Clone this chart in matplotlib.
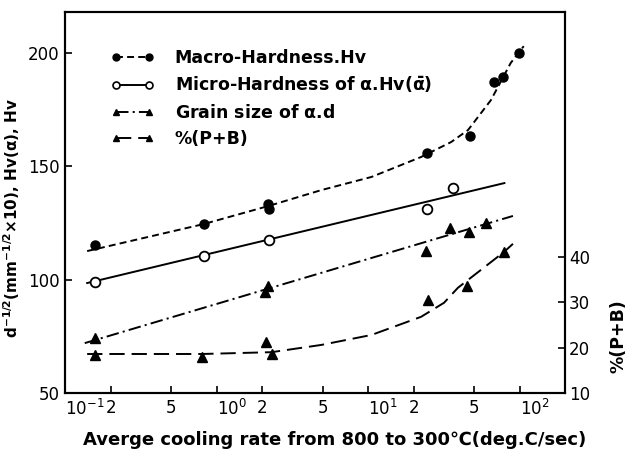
import numpy as np
import matplotlib
matplotlib.use("Agg")
import matplotlib.pyplot as plt
import matplotlib.transforms as mtransforms
from matplotlib.lines import Line2D

plt.rcParams['font.family'] = ['DejaVu Sans']
plt.rcParams['mathtext.default'] = 'regular'
plt.rcParams['lines.scale_dashes'] = False

# measured points
macro_x = [0.158, 0.82, 2.17, 2.23, 24.4, 46.9, 67.6, 77.0, 98.0]
macro_hv = [115.3, 124.5, 133.5, 131.0, 155.9, 163.4, 187.4, 189.4, 200.0]

micro_x = [0.158, 0.82, 2.23, 24.4, 36.2]
micro_hv = [99.0, 110.4, 117.5, 131.2, 140.4]

grain_x = [0.158, 2.17, 2.10, 24.2, 34.7, 46.0, 59.7]
grain_d = [74.3, 97.0, 94.6, 112.6, 122.8, 121.0, 124.8]

pb_x = [0.158, 0.80, 2.13, 2.33, 24.7, 44.7, 78.5]
pb_pct = [18.4, 17.9, 21.3, 18.6, 30.5, 33.6, 41.1]

# hand-drawn trend curves
macro_fit_x = [0.14, 0.82, 2.2, 4.9, 10.5, 22.3, 35.2, 45.5, 64.4, 87.0, 106.0]
macro_fit_y = [112.6, 124.5, 132.5, 139.5, 145.3, 154.1, 160.7, 166.0, 179.2, 195.6, 203.0]

micro_fit_x = [0.14, 79.0]
micro_fit_y = [98.5, 142.6]

grain_fit_x = [0.135, 90.0]
grain_fit_y = [72.0, 128.1]

pb_fit_x = [0.14, 0.8, 2.3, 4.9, 10.5, 22.3, 31.6, 39.0, 78.5, 90.0]
pb_fit_y = [18.6, 18.6, 19.0, 20.6, 22.8, 26.8, 29.9, 33.2, 41.1, 42.9]

xticks = [0.1, 0.2, 0.5, 1, 2, 5, 10, 20, 50, 100]
xticklabels = ['$10^{-1}$', '2', '5', '$10^{0}$', '2', '5', '$10^{1}$', '2', '5', '$10^{2}$']
left_ticks = [50, 100, 150, 200]
right_ticks = [10, 20, 30, 40]

fig = plt.figure(figsize=(6.34, 4.5), dpi=100)
ax = fig.add_axes([0.1025, 0.1267, 0.7885, 0.8463])
ax2 = ax.twinx()

lw = 1.4
short_dash = (5, 3)
dash_dot = (9, 3, 1.5, 3)
long_dash = (11, 5)

ax.plot(macro_fit_x, macro_fit_y, color='black', lw=lw, dashes=short_dash)
ax.plot(macro_x, macro_hv, 'o', color='black', ms=6.5, ls='none')

ax.plot(micro_fit_x, micro_fit_y, color='black', lw=lw)
ax.plot(micro_x, micro_hv, 'o', mfc='white', mec='black', mew=1.3, ms=7, ls='none')

ax.plot(grain_fit_x, grain_fit_y, color='black', lw=lw, dashes=dash_dot)
ax.plot(grain_x, grain_d, '^', color='black', ms=6.5, ls='none')

ax2.plot(pb_fit_x, pb_fit_y, color='black', lw=lw, dashes=long_dash)
ax2.plot(pb_x, pb_pct, '^', color='black', ms=6.5, ls='none')

ax.set_xscale('log')
ax.set_xlim(0.1, 198)
ax.set_ylim(50, 218)
ax2.set_ylim(10, 94)

ax.set_xticks(xticks)
ax.set_xticklabels(xticklabels, fontsize=12)
ax.xaxis.set_minor_locator(matplotlib.ticker.NullLocator())
ax.set_yticks(left_ticks)
ax.set_yticklabels([str(v) for v in left_ticks], fontsize=12)
ax2.set_yticks(right_ticks)
ax2.set_yticklabels([str(v) for v in right_ticks], fontsize=12)

# powers of ten start at their tick instead of being centred on it
for lab, txt in zip(ax.get_xticklabels(), xticklabels):
    if txt.startswith('$10'):
        lab.set_horizontalalignment('left')
        shift = -1 if txt == '$10^{-1}$' else -7
        lab.set_transform(lab.get_transform() +
                          mtransforms.ScaledTranslation(shift / 100, 0, fig.dpi_scale_trans))

ax.tick_params(axis='both', direction='in', length=5, width=1.2, pad=4)
ax2.tick_params(axis='y', direction='in', length=5, width=1.2, pad=3)
for a in (ax, ax2):
    for s in a.spines.values():
        s.set_linewidth(1.5)

ax.set_xlabel('Averge cooling rate from 800 to 300\u2103(deg.C/sec)',
              fontsize=13, fontweight='bold')
ax.xaxis.set_label_coords(0.54, -0.1)
ax.set_ylabel(r'd$^{-1/2}$(mm$^{-1/2}$$\times$10), Hv($\alpha$), Hv',
              fontsize=11, fontweight='bold')
ax.yaxis.set_label_coords(-0.085, 0.46)
ax2.set_ylabel('%(P+B)', fontsize=12.5, fontweight='bold')
ax2.yaxis.set_label_coords(1.09, 0.15)

handles = [
    Line2D([], [], color='black', lw=lw, dashes=short_dash, marker='o', ms=5),
    Line2D([], [], color='black', lw=lw, marker='o', ms=5, mfc='white', mew=1.2),
    Line2D([], [], color='black', lw=lw, dashes=dash_dot, marker='^', ms=5),
    Line2D([], [], color='black', lw=lw, dashes=long_dash, marker='^', ms=5),
]
labels = ['Macro-Hardness.Hv',
          r'Micro-Hardness of $\alpha$.Hv($\bar{\alpha}$)',
          r'Grain size of $\alpha$.d',
          '%(P+B)']
leg = ax.legend(handles, labels, loc='upper left', bbox_to_anchor=(0.06, 0.945),
                frameon=False, numpoints=2, handlelength=2.5, handletextpad=1.2,
                labelspacing=0.48, prop={'size': 12.5, 'weight': 'bold'})

fig.savefig('out.png', dpi=100)
